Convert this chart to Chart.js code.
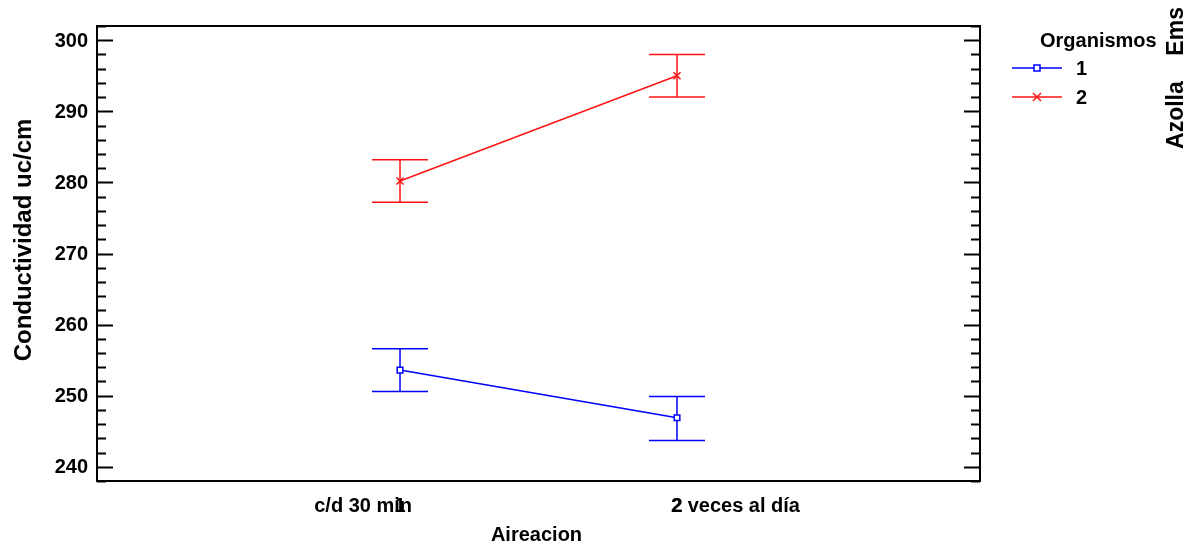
<!DOCTYPE html>
<html>
<head>
<meta charset="utf-8">
<script src="https://cdn.jsdelivr.net/npm/chart.js@4"></script>
<style>
    html, body { margin: 0; padding: 0; background: #ffffff; }
    #wrap { width: 1188px; height: 546px; }
</style>
</head>
<body>
<div id="wrap"><canvas id="chart" width="1188" height="546"></canvas></div>
<script>
// Data
const aireacion = ['c/d 30 min', '2 veces al día'];
const aireacionPos = [1, 2];
const organismos = ['1', '2'];

const media1 = [253.6, 246.9];
const bajo1 = [250.6, 243.7];
const alto1 = [256.6, 249.9];

const media2 = [280.2, 295.0];
const bajo2 = [277.2, 292.0];
const alto2 = [283.2, 298.0];

const yTicks = [240, 250, 260, 270, 280, 290, 300];
const yMinorStep = 2;

const blue = 'rgb(0,0,255)';
const red = 'rgb(255,20,20)';
const font = '"Liberation Sans", Arial, sans-serif';

function points(vals) {
    return vals.map((v, i) => ({ x: aireacionPos[i], y: v }));
}

// error bars, drawn under the markers
const errorBars = {
    id: 'errorBars',
    beforeDatasetsDraw(chart) {
        const ctx = chart.ctx;
        const xs = chart.scales.x, ys = chart.scales.y;
        const sets = [[bajo1, alto1, blue], [bajo2, alto2, red]];
        ctx.save();
        ctx.lineWidth = 1.5;
        sets.forEach(([lo, hi, col]) => {
            ctx.strokeStyle = col;
            lo.forEach((v, i) => {
                const px = xs.getPixelForValue(aireacionPos[i]);
                const y1 = ys.getPixelForValue(v);
                const y2 = ys.getPixelForValue(hi[i]);
                ctx.beginPath();
                ctx.moveTo(px, y1); ctx.lineTo(px, y2);
                ctx.moveTo(px - 28, y1); ctx.lineTo(px + 28, y1);
                ctx.moveTo(px - 28, y2); ctx.lineTo(px + 28, y2);
                ctx.stroke();
            });
        });
        ctx.restore();
    }
};

// frame, inward ticks, labels, titles, legend
const decor = {
    id: 'decor',
    afterDraw(chart) {
        const ctx = chart.ctx;
        const a = chart.chartArea;
        const xs = chart.scales.x, ys = chart.scales.y;
        ctx.save();
        ctx.strokeStyle = '#000';
        ctx.lineWidth = 2;
        ctx.strokeRect(a.left, a.top, a.right - a.left, a.bottom - a.top);

        // ticks on both sides
        ctx.lineWidth = 2;
        ctx.beginPath();
        for (let v = Math.ceil(ys.min / yMinorStep) * yMinorStep; v <= ys.max; v += yMinorStep) {
            const py = Math.round(ys.getPixelForValue(v)) + 0.5;
            const len = yTicks.includes(v) ? 16 : 9;
            ctx.moveTo(a.left, py); ctx.lineTo(a.left + len, py);
            ctx.moveTo(a.right, py); ctx.lineTo(a.right - len, py);
        }
        ctx.stroke();

        ctx.fillStyle = '#000';
        ctx.font = 'bold 20px ' + font;
        ctx.textAlign = 'right';
        ctx.textBaseline = 'middle';
        yTicks.forEach(v => ctx.fillText(String(v), a.left - 9, ys.getPixelForValue(v) + 1));

        // category labels with their number printed over them
        const p1 = xs.getPixelForValue(aireacionPos[0]);
        const p2 = xs.getPixelForValue(aireacionPos[1]);
        ctx.textAlign = 'right';
        ctx.fillText(aireacion[0], p1 + 12, 506);
        ctx.textAlign = 'left';
        ctx.fillText(aireacion[1], p2 - 6, 506);
        ctx.textAlign = 'center';
        ctx.fillText('1', p1, 506);
        ctx.fillText('2', p2, 506);

        ctx.fillText('Aireacion', (a.left + a.right) / 2 - 2, 535);

        ctx.save();
        ctx.translate(24, 240);
        ctx.rotate(-Math.PI / 2);
        ctx.font = 'bold 24px ' + font;
        ctx.fillText('Conductividad uc/cm', 0, 0);
        ctx.restore();

        ctx.save();
        ctx.translate(1177, 78);
        ctx.rotate(-Math.PI / 2);
        ctx.font = 'bold 23px ' + font;
        ctx.fillText('Azolla    Ems', 0, 0);
        ctx.restore();

        // legend
        ctx.font = 'bold 20px ' + font;
        ctx.textAlign = 'left';
        ctx.fillText('Organismos', 1040, 41);
        const rows = [[organismos[0], blue, 68, 'rect'], [organismos[1], red, 97, 'cross']];
        rows.forEach(([lab, col, y, mk]) => {
            ctx.strokeStyle = col;
            ctx.lineWidth = 1.5;
            ctx.beginPath();
            ctx.moveTo(1012, y); ctx.lineTo(1062, y);
            ctx.stroke();
            if (mk === 'rect') {
                ctx.fillStyle = '#fff';
                ctx.fillRect(1034, y - 3, 6, 6);
                ctx.strokeRect(1034, y - 3, 6, 6);
            } else {
                ctx.beginPath();
                ctx.moveTo(1033, y - 4); ctx.lineTo(1041, y + 4);
                ctx.moveTo(1041, y - 4); ctx.lineTo(1033, y + 4);
                ctx.stroke();
            }
            ctx.fillStyle = '#000';
            ctx.fillText(lab, 1076, y + 1);
        });
        ctx.restore();
    }
};

new Chart(document.getElementById('chart'), {
    type: 'line',
    data: {
        datasets: [
            {
                label: organismos[0],
                data: points(media1),
                borderColor: blue,
                backgroundColor: '#ffffff',
                borderWidth: 1.5,
                pointStyle: 'rect',
                pointRadius: 4,
                pointBorderWidth: 1.5,
                tension: 0
            },
            {
                label: organismos[1],
                data: points(media2),
                borderColor: red,
                backgroundColor: red,
                borderWidth: 1.5,
                pointStyle: 'crossRot',
                pointRadius: 5,
                pointBorderWidth: 1.5,
                tension: 0
            }
        ]
    },
    options: {
        responsive: false,
        animation: false,
        events: [],
        layout: { padding: { left: 97, top: 26, right: 208, bottom: 65 } },
        plugins: { legend: { display: false }, tooltip: { enabled: false } },
        scales: {
            x: { type: 'linear', display: false, min: -0.094, max: 3.094 },
            y: { type: 'linear', display: false, min: 238, max: 302 }
        }
    },
    plugins: [errorBars, decor]
});
</script>
</body>
</html>
